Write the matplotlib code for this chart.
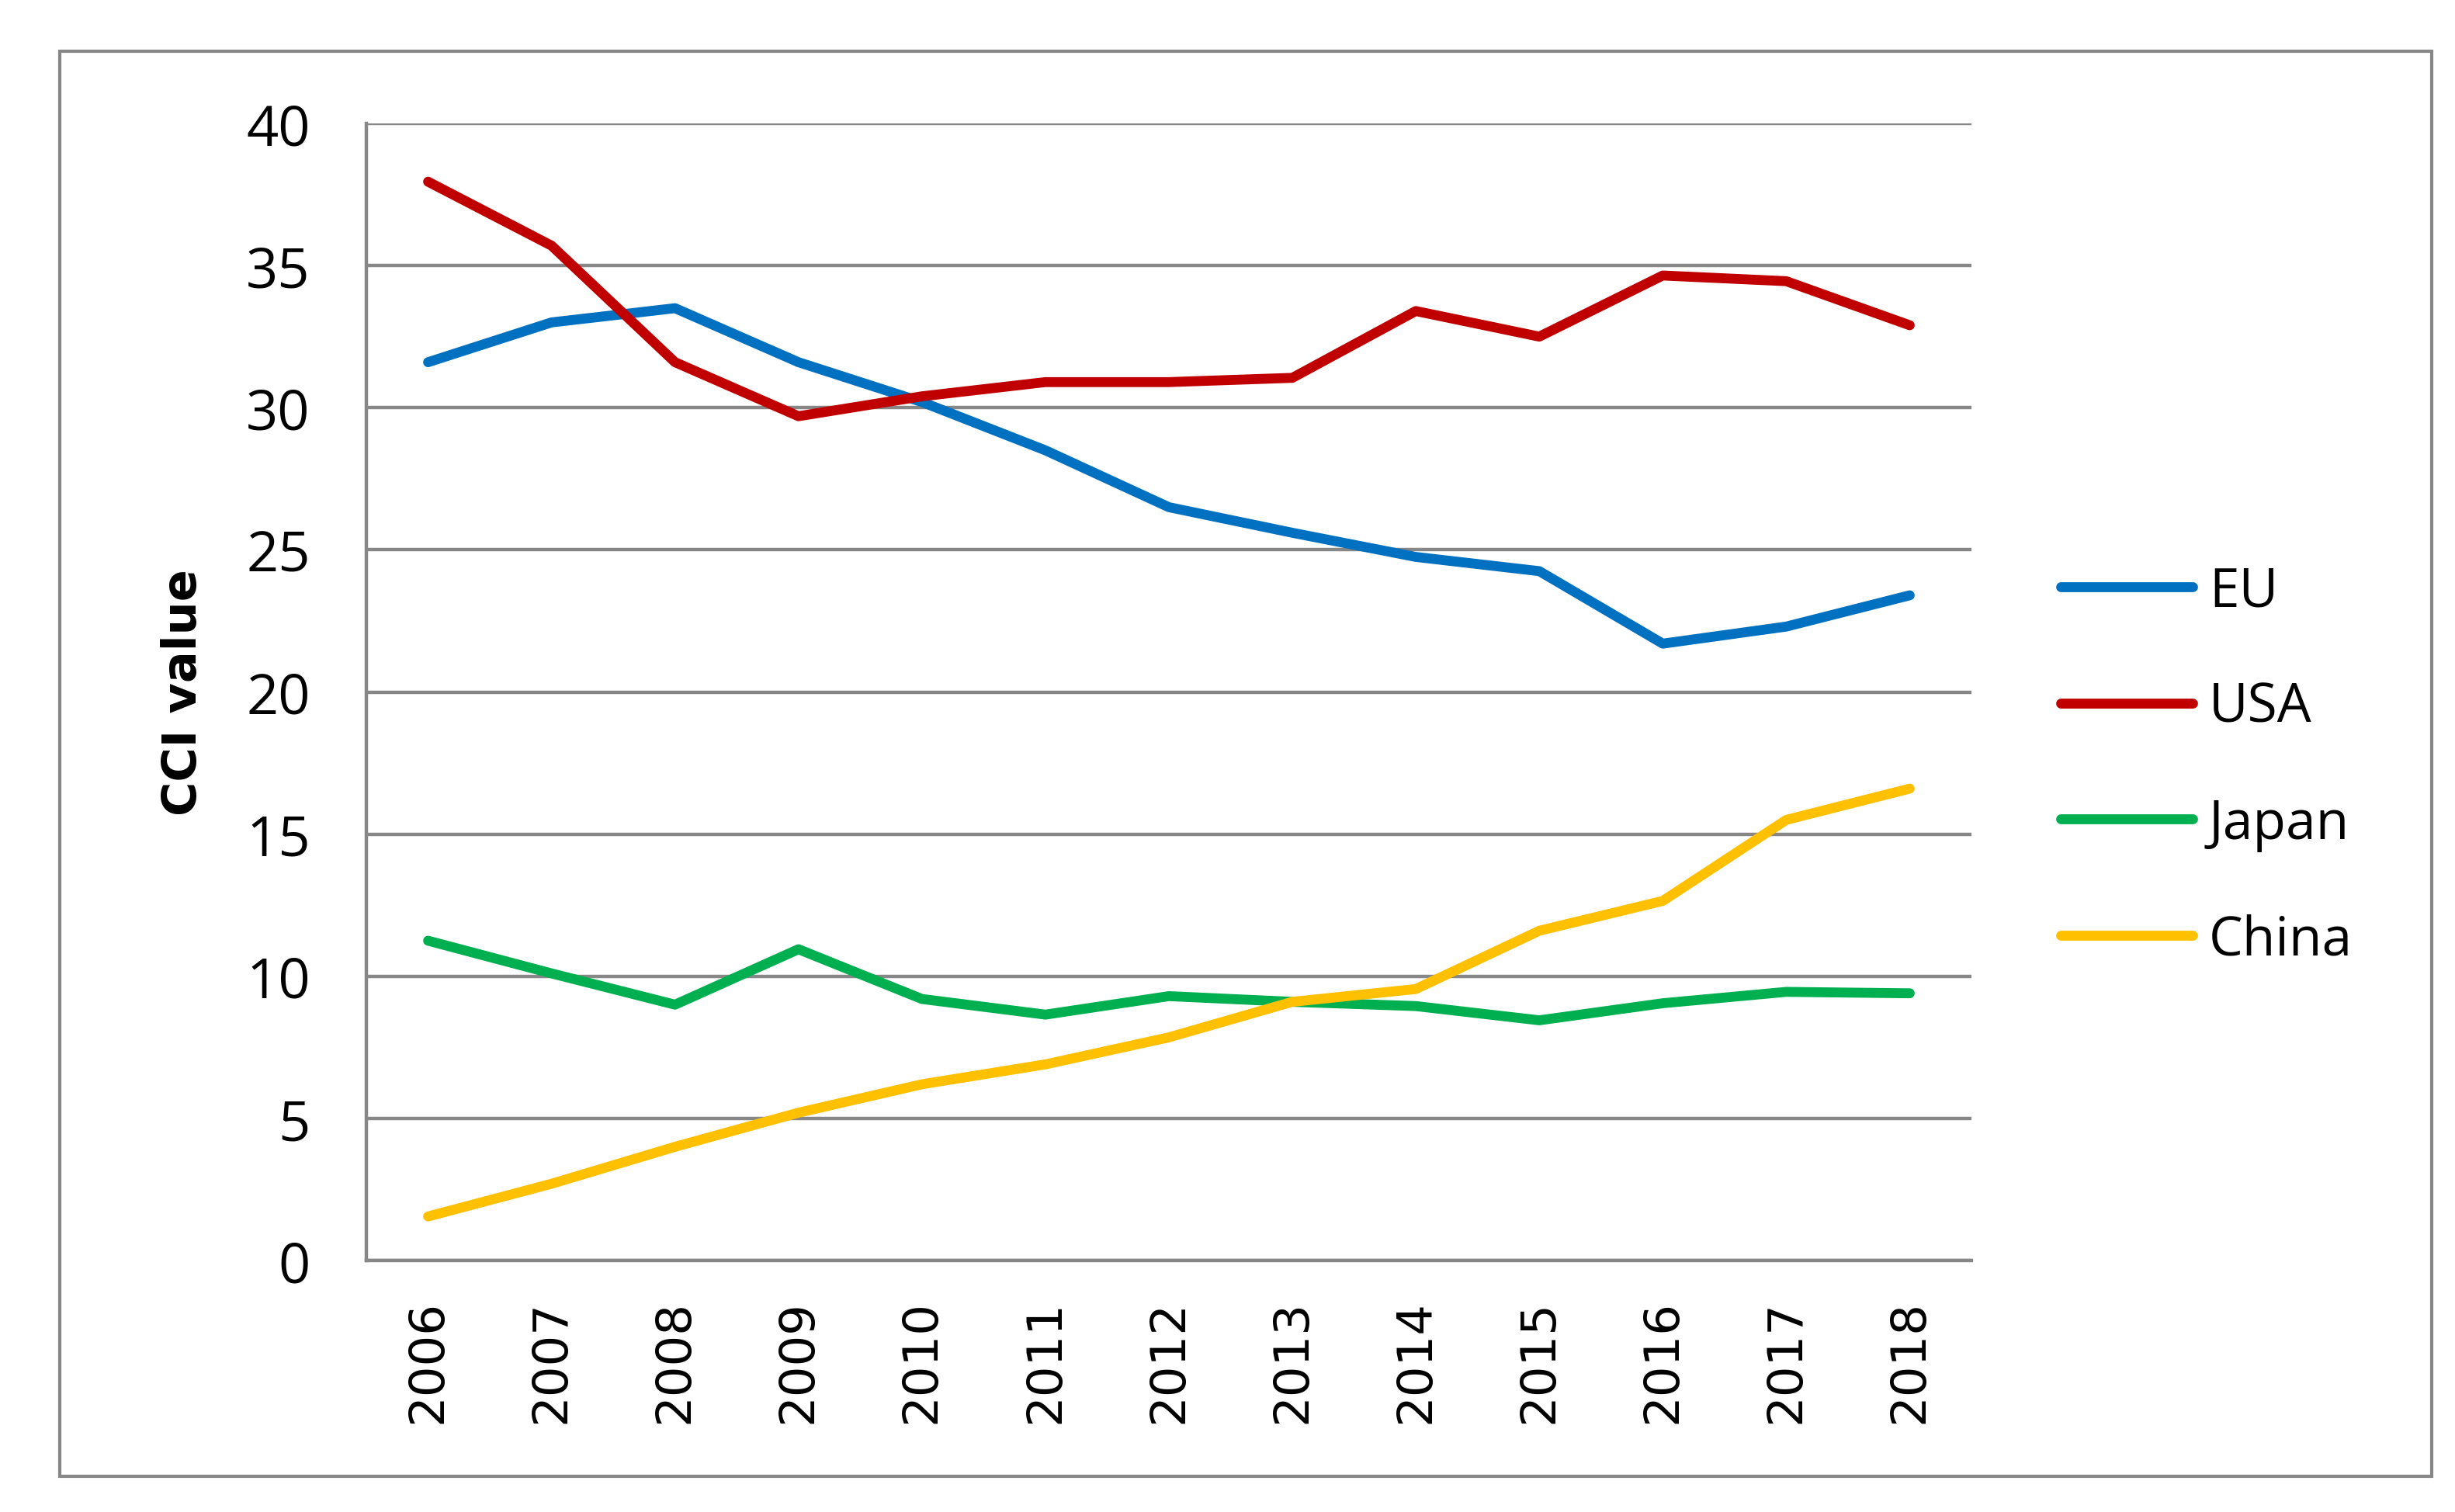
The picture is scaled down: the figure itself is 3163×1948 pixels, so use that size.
import matplotlib
matplotlib.use("Agg")
import matplotlib.pyplot as plt
from matplotlib.patches import Rectangle

years = ["2006", "2007", "2008", "2009", "2010", "2011", "2012",
         "2013", "2014", "2015", "2016", "2017", "2018"]
eu = [31.6, 33.0, 33.5, 31.6, 30.2, 28.5, 26.5, 25.6, 24.75, 24.25, 21.7, 22.3, 23.4]
usa = [37.95, 35.7, 31.6, 29.7, 30.4, 30.9, 30.9, 31.05, 33.4, 32.5, 34.65, 34.45, 32.9]
japan = [11.25, 10.1, 9.0, 10.95, 9.2, 8.65, 9.3, 9.1, 8.95, 8.45, 9.05, 9.45, 9.4]
china = [1.55, 2.7, 4.0, 5.2, 6.2, 6.9, 7.85, 9.1, 9.55, 11.6, 12.65, 15.5, 16.6]
yticks = [0, 5, 10, 15, 20, 25, 30, 35, 40]

series = [("EU", eu, "#0070C0"), ("USA", usa, "#C00000"),
          ("Japan", japan, "#00B050"), ("China", china, "#FFC000")]

W, H, DPI = 3163, 1949, 200
fig = plt.figure(figsize=(W / DPI, H / DPI), dpi=DPI)
fig.patch.set_facecolor("white")

# outer border
fig.patches.append(Rectangle((77 / W, 1 - 1903 / H), (3133 - 77) / W, (1903 - 67) / H,
                             transform=fig.transFigure, fill=False,
                             edgecolor="#878787", linewidth=1.5))

ax = fig.add_axes([472 / W, 1 - 1625 / H, (2540 - 472) / W, (1625 - 160) / H])
x = list(range(len(years)))
for name, vals, col in series:
    ax.plot(x, vals, color=col, linewidth=4.6, label=name, solid_capstyle="round",
            solid_joinstyle="round", zorder=3)

ax.set_xlim(-0.5, len(years) - 0.5)
ax.set_ylim(0, 40)
ax.set_yticks(yticks)
ax.set_yticklabels([str(v) for v in yticks], fontfamily="Open Sans", fontsize=26)
ax.set_xticks(x)
ax.set_xticklabels(years, rotation=90, fontfamily="DejaVu Sans", fontsize=22.5)
ax.tick_params(axis="y", length=0, pad=26)
ax.tick_params(axis="x", length=0, pad=18)
ax.yaxis.grid(True, color="#878787", linewidth=1.6, zorder=1)
ax.set_axisbelow(True)
for s in ["top", "right"]:
    ax.spines[s].set_visible(False)
for s in ["left", "bottom"]:
    ax.spines[s].set_color("#878787")
    ax.spines[s].set_linewidth(1.6)

ax.set_ylabel("CCI value", fontfamily="DejaVu Sans", fontweight="bold", fontsize=21.8)
ax.yaxis.set_label_coords(-(472 - 266) / (2540 - 472), 0.5)

leg = fig.legend(loc="upper left", bbox_to_anchor=(2655 / W, 1 - 728 / H),
                 frameon=False, prop={"family": "Open Sans", "size": 25},
                 handlelength=2.45, handletextpad=0.3, labelspacing=1.15,
                 borderaxespad=0, borderpad=0)

fig.savefig("out.png", dpi=DPI, facecolor="white")
